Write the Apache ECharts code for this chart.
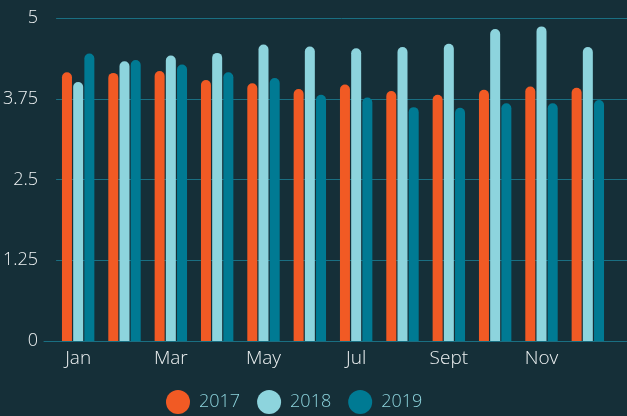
<!DOCTYPE html>
<html>
<head>
<meta charset="utf-8">
<script src="https://cdn.jsdelivr.net/npm/echarts@6/dist/echarts.min.js"></script>
<style>
  html, body { margin: 0; padding: 0; background: #152f38; }
  #chart { width: 627px; height: 416px; }
</style>
</head>
<body>
<div id="chart"></div>
<script>
// months and the three yearly series
const months = ['Jan', 'Feb', 'Mar', 'Apr', 'May', 'Jun', 'Jul', 'Aug', 'Sept', 'Oct', 'Nov', 'Dec'];
const years = ['2017', '2018', '2019'];
const v2017 = [4.16, 4.15, 4.18, 4.04, 3.99, 3.90, 3.97, 3.87, 3.81, 3.89, 3.94, 3.92];
const v2018 = [4.01, 4.33, 4.42, 4.46, 4.59, 4.56, 4.53, 4.55, 4.60, 4.83, 4.87, 4.55];
const v2019 = [4.45, 4.35, 4.28, 4.16, 4.07, 3.81, 3.77, 3.62, 3.61, 3.68, 3.68, 3.73];
const yTicks = [0, 1.25, 2.5, 3.75, 5];

const colors = ['#f15a24', '#8dd4dd', '#007a93'];
const lineColor = '#1a6f82';
const font = '"Open Sans", sans-serif';

const chart = echarts.init(document.getElementById('chart'));
chart.setOption({
  backgroundColor: '#152f38',
  color: colors,
  textStyle: { fontFamily: font },
  legend: {
    left: 161, top: 385,
    icon: 'circle', itemWidth: 24, itemHeight: 24, itemGap: 17,
    textStyle: { color: '#8dd4dd', fontSize: 18, fontWeight: 300, fontFamily: font, padding: [0, 0, 0, 4] },
    data: years,
  },
  grid: [
    // split lines + y labels
    { left: 53, right: 0, top: 18, bottom: 75 },
    // bars
    { left: 55, right: 16, top: 18, bottom: 75 },
    // bottom axis line
    { left: 44, right: 0, top: 18, bottom: 75 },
  ],
  xAxis: [
    {
      gridIndex: 0, type: 'category', data: [''],
      axisLine: { show: false }, axisTick: { show: false }, axisLabel: { show: false },
    },
    {
      gridIndex: 1, type: 'category', data: months,
      axisLine: { show: false }, axisTick: { show: false },
      axisLabel: { interval: 1, color: '#eef2f3', fontSize: 19, fontWeight: 300, margin: 8, fontFamily: font },
    },
    {
      gridIndex: 2, type: 'category', data: [''],
      axisLine: { lineStyle: { color: lineColor, width: 1 } },
      axisTick: { show: false }, axisLabel: { show: false },
    },
  ],
  yAxis: [
    {
      gridIndex: 0, type: 'value', min: 0, max: 5, interval: 1.25,
      axisLine: { show: false }, axisTick: { show: false },
      splitLine: { lineStyle: { color: lineColor, width: 1 } },
      axisLabel: {
        color: '#eef2f3', fontSize: 18, fontWeight: 300, margin: 18, fontFamily: font,
        formatter: v => yTicks.includes(v) ? String(v) : '',
      },
    },
    {
      gridIndex: 1, type: 'value', min: 0, max: 5, interval: 1.25,
      show: false, splitLine: { show: false },
    },
    {
      gridIndex: 2, type: 'value', min: 0, max: 5, interval: 1.25,
      show: false, splitLine: { show: false },
    },
  ],
  series: [v2017, v2018, v2019].map((vals, i) => ({
    name: years[i], type: 'bar',
    xAxisIndex: 1, yAxisIndex: 1,
    barWidth: 10, barGap: '12%',
    itemStyle: { color: colors[i], borderRadius: [5, 5, 0, 0] },
    data: vals,
  })),
});
</script>
</body>
</html>
